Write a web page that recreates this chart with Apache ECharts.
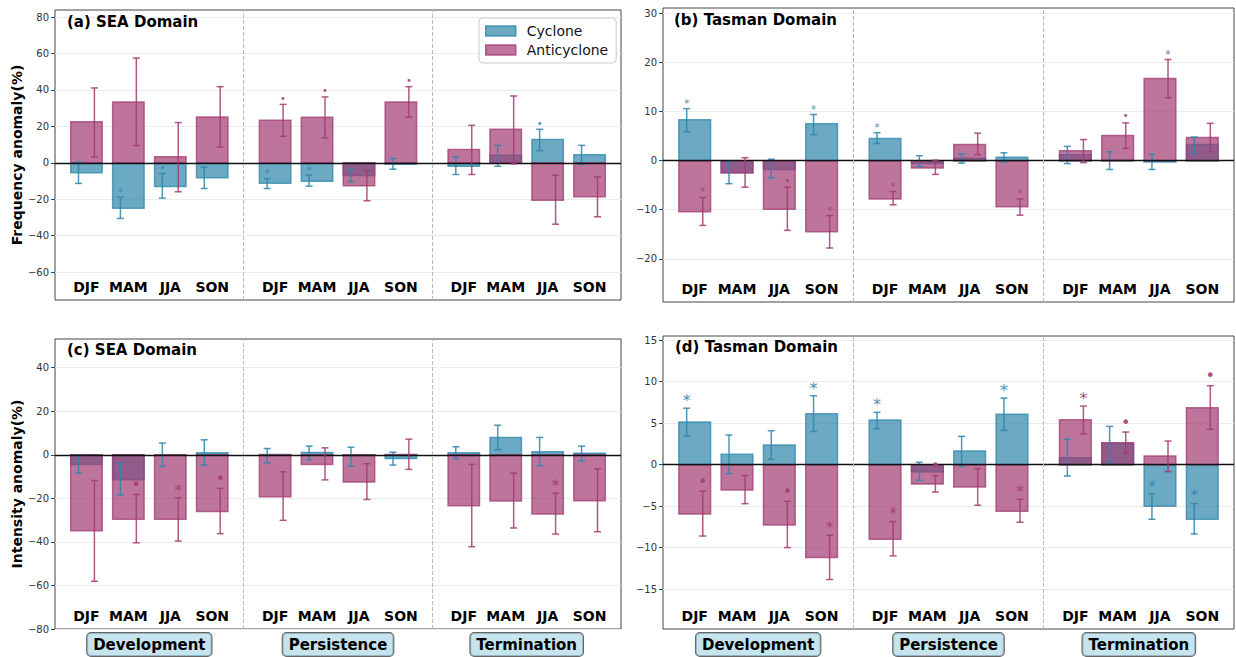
<!DOCTYPE html>
<html>
<head>
<meta charset="utf-8">
<script src="https://cdn.jsdelivr.net/npm/echarts@6.0.0/dist/echarts.min.js"></script>
<style>
  html, body { margin: 0; padding: 0; background: #fff; }
  #main { width: 1236px; height: 657px; }
</style>
</head>
<body>
<div id="main"></div>
<script>
var seasons = ['DJF', 'MAM', 'JJA', 'SON'];
var phases = ['Development', 'Persistence', 'Termination'];

// (a) SEA frequency anomaly (%)
var freqSeaCyc     = [-5.5, -25, -13, -8.2, -11.2, -10.1, -7, -0.8, -1.9, 4.2, 12.8, 4.4];
var freqSeaCycLo   = [-11.3, -30.5, -19.4, -14.1, -14.1, -12.8, -10.3, -3.5, -6.4, -1.9, 6.7, -0.8];
var freqSeaCycHi   = [0.5, -18.8, -5.9, -2.4, -8.6, -6.8, -3.8, 2.4, 3.3, 9.6, 18.4, 9.6];
var freqSeaAnti    = [22.5, 33.4, 3.3, 25.2, 23.4, 25, -12.6, 33.4, 7.3, 18.4, -20.5, -18.6];
var freqSeaAntiLo  = [3.3, 9.5, -15.9, 8.6, 14.6, 13.7, -20.8, 25, -6.4, -0.6, -33.7, -29.6];
var freqSeaAntiHi  = [41.1, 57.5, 22.1, 41.8, 32.1, 36.2, -4.0, 41.8, 20.6, 36.7, -6.8, -7.7];
var freqSeaCycSig  = ['', '*', '•', '', '*', '*', '•', '', '', '', '•', ''];
var freqSeaAntiSig = ['', '', '', '', '•', '•', '', '•', '', '', '', ''];

// (b) Tasman frequency anomaly (%)
var freqTasCyc     = [8.35, -2.4, -1.8, 7.5, 4.5, -0.6, 0.5, 0.7, 1.2, 0.1, -0.3, 3.3];
var freqTasCycLo   = [5.9, -4.7, -3.5, 5.3, 3.5, -1.2, -0.5, -0.3, -0.6, -1.8, -1.8, 1.4];
var freqTasCycHi   = [10.6, -0.3, 0.3, 9.4, 5.7, 1.0, 1.4, 1.6, 2.9, 1.8, 1.3, 4.8];
var freqTasAnti    = [-10.4, -2.5, -9.9, -14.5, -7.8, -1.5, 3.3, -9.4, 2.0, 5.1, 16.75, 4.7];
var freqTasAntiLo  = [-13.2, -5.4, -14.2, -17.8, -9.0, -2.8, 1.2, -11.1, -0.4, 2.5, 12.8, 1.8];
var freqTasAntiHi  = [-7.5, 0.6, -5.4, -11.2, -6.3, 0.1, 5.6, -7.8, 4.3, 7.7, 20.6, 7.6];
var freqTasCycSig  = ['*', '', '', '*', '*', '', '', '', '', '', '', ''];
var freqTasAntiSig = ['*', '', '•', '*', '*', '', '', '*', '', '•', '*', ''];

// (c) SEA intensity anomaly (%)
var intSeaCyc      = [-4.4, -11.5, 0, 0.9, 0.2, 1.1, -0.3, -1.7, 0.9, 8.0, 1.4, 0.7];
var intSeaCycLo    = [-8.4, -18.5, -5.3, -4.7, -3.7, -2.4, -5.2, -4.7, -1.8, 2.3, -5.0, -2.8];
var intSeaCycHi    = [0, -4.0, 5.4, 6.9, 2.9, 4.0, 3.5, 1.2, 3.7, 13.6, 8.0, 4.0];
var intSeaAnti     = [-34.9, -29.6, -29.6, -26.0, -19.3, -4.4, -12.5, 0.1, -23.4, -21.2, -27.2, -21.1];
var intSeaAntiLo   = [-58.1, -40.4, -39.6, -36.2, -30.1, -11.5, -20.5, -6.7, -42.2, -33.6, -36.4, -35.3];
var intSeaAntiHi   = [-11.8, -18.2, -19.7, -15.4, -7.8, 3.2, -4.1, 7.2, -4.4, -8.4, -17.6, -6.4];
var intSeaCycSig   = ['', '', '', '', '', '', '', '', '', '', '', ''];
var intSeaAntiSig  = ['', '•', '*', '•', '', '', '', '', '', '', '*', ''];

// (d) Tasman intensity anomaly (%)
var intTasCyc      = [5.13, 1.24, 2.37, 6.14, 5.37, -0.88, 1.64, 6.06, 0.84, 2.57, -5.01, -6.58];
var intTasCycLo    = [3.45, -1.08, 0.64, 4.0, 4.33, -1.89, -0.2, 4.13, -1.36, 0.36, -6.58, -8.34];
var intTasCycHi    = [6.8, 3.57, 4.09, 8.3, 6.3, 0.28, 3.41, 8.02, 3.05, 4.61, -3.53, -4.69];
var intTasAnti     = [-5.94, -3.05, -7.26, -11.2, -8.99, -2.33, -2.69, -5.62, 5.42, 2.65, 1.04, 6.86];
var intTasAntiLo   = [-8.6, -4.7, -9.99, -13.84, -10.99, -3.29, -4.89, -6.94, 3.69, 1.4, -0.84, 4.25];
var intTasAntiHi   = [-3.2, -1.32, -4.41, -8.5, -6.86, -1.32, -0.48, -4.17, 7.06, 3.93, 2.85, 9.51];
var intTasCycSig   = ['*', '', '', '*', '*', '', '', '*', '', '', '*', '*'];
var intTasAntiSig  = ['•', '', '•', '*', '*', '•', '', '*', '*', '•', '', '•'];

// y-axis tick labels
var ticksA = [-60, -40, -20, 0, 20, 40, 60, 80];
var ticksB = [-20, -10, 0, 10, 20, 30];
var ticksC = [-80, -60, -40, -20, 0, 20, 40];
var ticksD = [-15, -10, -5, 0, 5, 10, 15];

var CYC = [46, 134, 171];
var ANTI = [162, 59, 114];
var FONT = 'DejaVu Sans';

function rgba(c, a) { return 'rgba(' + c[0] + ',' + c[1] + ',' + c[2] + ',' + a + ')'; }

// x slot of each season: groups of four separated by a half-slot gap
function slot(i) { return Math.floor(i / 4) * 4.5 + (i % 4); }
var slots = seasons.concat(seasons, seasons).map(function (s, i) { return slot(i); });
var dividers = [(slot(3) + slot(4)) / 2, (slot(7) + slot(8)) / 2];
var phaseCenters = phases.map(function (p, g) { return (slot(g * 4) + slot(g * 4 + 3)) / 2; });

var BAR_W = 0.75;
var ERR_OFF = 0.19;

var panels = [
  { title: '(a) SEA Domain', grid: { left: 55, top: 10, width: 566, height: 290 }, titlePos: [67, 14],
    yMin: -75.3, yMax: 83.9, ticks: ticksA, yName: 'Frequency anomaly(%)', phase: false, mFont: 10, mGap: 6,
    cyc: [freqSeaCyc, freqSeaCycLo, freqSeaCycHi, freqSeaCycSig],
    anti: [freqSeaAnti, freqSeaAntiLo, freqSeaAntiHi, freqSeaAntiSig] },
  { title: '(b) Tasman Domain', grid: { left: 663, top: 8, width: 571, height: 294 }, titlePos: [674, 12],
    yMin: -28.8, yMax: 31.1, ticks: ticksB, yName: '', phase: false, mFont: 10, mGap: 7,
    cyc: [freqTasCyc, freqTasCycLo, freqTasCycHi, freqTasCycSig],
    anti: [freqTasAnti, freqTasAntiLo, freqTasAntiHi, freqTasAntiSig] },
  { title: '(c) SEA Domain', grid: { left: 55, top: 339, width: 566, height: 290 }, titlePos: [67, 342],
    yMin: -80, yMax: 53.2, ticks: ticksC, yName: 'Intensity anomaly(%)', phase: true, mFont: 16, mGap: 10,
    cyc: [intSeaCyc, intSeaCycLo, intSeaCycHi, intSeaCycSig],
    anti: [intSeaAnti, intSeaAntiLo, intSeaAntiHi, intSeaAntiSig] },
  { title: '(d) Tasman Domain', grid: { left: 663, top: 336, width: 571, height: 293 }, titlePos: [675, 339],
    yMin: -19.8, yMax: 15.5, ticks: ticksD, yName: '', phase: true, mFont: 16, mGap: 10,
    cyc: [intTasCyc, intTasCycLo, intTasCycHi, intTasCycSig],
    anti: [intTasAnti, intTasAntiLo, intTasAntiHi, intTasAntiSig] }
];

function barRender(color) {
  return function (params, api) {
    var x = api.value(0), v = api.value(1);
    var p0 = api.coord([x - BAR_W / 2, v]);
    var p1 = api.coord([x + BAR_W / 2, 0]);
    return {
      type: 'rect',
      shape: { x: p0[0], y: Math.min(p0[1], p1[1]), width: p1[0] - p0[0], height: Math.abs(p1[1] - p0[1]) },
      style: { fill: rgba(color, 0.7), stroke: rgba(color, 0.75), lineWidth: 1.5 }
    };
  };
}

function errRender(color, off, sig, mFont, mGap) {
  return function (params, api) {
    var x = api.value(0) + off;
    var top = api.coord([x, api.value(3)]);
    var bot = api.coord([x, api.value(2)]);
    var cap = 3.5;
    var st = { stroke: rgba(color, 0.85), lineWidth: 1.5 };
    var kids = [
      { type: 'line', shape: { x1: top[0], y1: top[1], x2: bot[0], y2: bot[1] }, style: st },
      { type: 'line', shape: { x1: top[0] - cap, y1: top[1], x2: top[0] + cap, y2: top[1] }, style: st },
      { type: 'line', shape: { x1: bot[0] - cap, y1: bot[1], x2: bot[0] + cap, y2: bot[1] }, style: st }
    ];
    var s = sig[params.dataIndex];
    if (s) {
      var g = s === '*' ? mGap - mFont * 0.15 : mGap;
      kids.push({
        type: 'text', x: top[0], y: top[1] - g,
        style: { text: s, fill: rgba(color, 0.9), fontSize: mFont, fontFamily: FONT,
                 align: 'center', verticalAlign: 'middle' }
      });
    }
    return { type: 'group', children: kids };
  };
}

function rows(arr) {
  return slots.map(function (x, i) { return [x, arr[0][i], arr[1][i], arr[2][i]]; });
}

function fmtTick(v) { return String(v).replace('-', '\u2212'); }

var grids = [], xAxes = [], yAxes = [], series = [], titles = [];

panels.forEach(function (p, i) {
  grids.push({ left: p.grid.left, top: p.grid.top, width: p.grid.width, height: p.grid.height,
               show: true, borderColor: '#444', borderWidth: 1, backgroundColor: 'transparent' });
  titles.push({ text: p.title, left: p.titlePos[0], top: p.titlePos[1], padding: 0,
                textStyle: { fontSize: 15, fontWeight: 'bold', color: '#000', fontFamily: FONT } });
  var xi = xAxes.length;
  xAxes.push({
    type: 'value', gridIndex: i, min: -0.75, max: 12.75,
    axisLine: { show: false, onZero: false }, axisTick: { show: false }, splitLine: { show: false },
    axisLabel: {
      inside: true, margin: 6, customValues: slots,
      formatter: function (v) { return seasons[slots.indexOf(v) % 4]; },
      fontSize: 14, fontWeight: 'bold', color: '#000', fontFamily: FONT
    }
  });
  if (p.phase) {
    xAxes.push({
      type: 'value', gridIndex: i, min: -0.75, max: 12.75, position: 'bottom', offset: 0,
      axisLine: { show: false, onZero: false }, axisTick: { show: false }, splitLine: { show: false },
      axisLabel: {
        customValues: phaseCenters, margin: 4,
        formatter: function (v) { return phases[phaseCenters.indexOf(v)]; },
        fontSize: 15, fontWeight: 'bold', color: '#000', fontFamily: FONT,
        backgroundColor: 'rgba(173,216,230,0.7)', borderColor: '#666', borderWidth: 1,
        borderRadius: 4, padding: [4, 6, 4, 6]
      }
    });
  }
  yAxes.push({
    type: 'value', gridIndex: i, min: p.yMin, max: p.yMax, position: 'left',
    name: p.yName, nameLocation: 'middle', nameGap: 30,
    nameTextStyle: { fontSize: 14, fontWeight: 'bold', color: '#000', fontFamily: FONT },
    axisLine: { show: false, onZero: false },
    axisTick: { show: true, length: 4, customValues: p.ticks, lineStyle: { color: '#444' } },
    axisLabel: { customValues: p.ticks, formatter: fmtTick, fontSize: 10, color: '#333', fontFamily: FONT, margin: 6 },
    splitLine: { show: true, lineStyle: { color: '#ececec', width: 1 } }
  });

  series.push({
    name: 'Cyclone', type: 'custom', xAxisIndex: xi, yAxisIndex: i, z: 2,
    itemStyle: { color: rgba(CYC, 0.7) },
    renderItem: barRender(CYC), data: rows(p.cyc), encode: { x: 0, y: 1 }
  });
  series.push({
    name: 'Anticyclone', type: 'custom', xAxisIndex: xi, yAxisIndex: i, z: 3,
    itemStyle: { color: rgba(ANTI, 0.7) },
    renderItem: barRender(ANTI), data: rows(p.anti), encode: { x: 0, y: 1 }
  });
  series.push({
    name: 'cyc-err', type: 'custom', xAxisIndex: xi, yAxisIndex: i, z: 4,
    renderItem: errRender(CYC, -ERR_OFF, p.cyc[3], p.mFont, p.mGap), data: rows(p.cyc), encode: { x: 0, y: [2, 3] }
  });
  series.push({
    name: 'anti-err', type: 'custom', xAxisIndex: xi, yAxisIndex: i, z: 5,
    renderItem: errRender(ANTI, ERR_OFF, p.anti[3], p.mFont, p.mGap), data: rows(p.anti), encode: { x: 0, y: [2, 3] },
    markLine: {
      silent: true, symbol: 'none', label: { show: false }, animation: false,
      data: [
        { yAxis: 0, lineStyle: { color: '#111', width: 1.3, type: 'solid' } },
        { xAxis: dividers[0], lineStyle: { color: '#bbb', width: 1, type: 'dashed' } },
        { xAxis: dividers[1], lineStyle: { color: '#bbb', width: 1, type: 'dashed' } }
      ]
    }
  });
});

var chart = echarts.init(document.getElementById('main'), null, { renderer: 'svg' });
var option = {
  animation: false,
  backgroundColor: '#fff',
  title: titles,
  legend: {
    data: [
      { name: 'Cyclone', itemStyle: { color: rgba(CYC, 0.7), borderColor: rgba(CYC, 0.8), borderWidth: 1.5 } },
      { name: 'Anticyclone', itemStyle: { color: rgba(ANTI, 0.7), borderColor: rgba(ANTI, 0.8), borderWidth: 1.5 } }
    ],
    orient: 'vertical', left: 479, top: 18, icon: 'rect',
    itemWidth: 30, itemHeight: 10, itemGap: 5,
    padding: [6, 8, 6, 6],
    backgroundColor: '#fff', borderColor: '#ccc', borderWidth: 1, borderRadius: 4,
    textStyle: { fontSize: 14, color: '#111', fontFamily: FONT, padding: [0, 0, 0, 6] },
    selectedMode: false
  },
  grid: grids,
  xAxis: xAxes,
  yAxis: yAxes,
  series: series
};
chart.setOption(option);
</script>
</body>
</html>
